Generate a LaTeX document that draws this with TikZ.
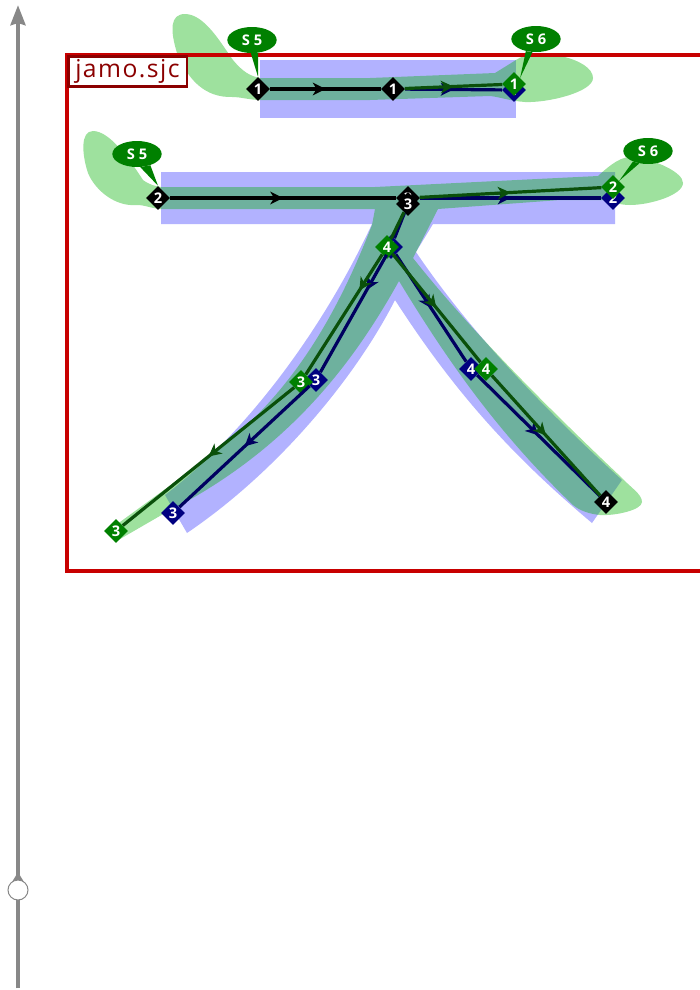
\documentclass[tikz,border=0pt]{standalone}
\usepackage{fontspec}
\usepackage{xcolor}
\usepackage{tikz}
\usetikzlibrary{arrows.meta,shapes.geometric,decorations.markings}
\newfontfamily\glyphfont[LetterSpace=6]{Open Sans}
\newfontfamily\markfont{Open Sans}
\definecolor{axisGray}{HTML}{888888}
\definecolor{frameRed}{HTML}{C80000}
\definecolor{labelRed}{HTML}{8B0000}
\definecolor{inkBlue}{HTML}{0000FF}
\definecolor{inkGreen}{HTML}{00B100}
\definecolor{ptNavy}{HTML}{000080}
\definecolor{ptGreen}{HTML}{008000}
\definecolor{lineNavy}{HTML}{000060}
\definecolor{lineGreen}{HTML}{0A500A}

\begin{document}
\begin{tikzpicture}[
  x=0.75pt,y=-0.75pt,
  midarrow/.style={postaction={decorate,decoration={markings,
    mark=at position #1 with {\arrow{Stealth[length=9.5pt,width=9.5pt,inset=2.8pt]}}}}},
  midarrow/.default=0.5,
  pt/.style={diamond,minimum size=18pt,inner sep=0pt,text=white,
             font=\markfont\bfseries\fontsize{11}{12}\selectfont},
  ptblack/.style={pt,fill=black},
  ptnavy/.style={pt,fill=ptNavy},
  ptgreen/.style={pt,fill=ptGreen},
  lnblack/.style={line width=2.4pt,draw=black},
  lnnavy/.style={line width=2.4pt,draw=lineNavy},
  lngreen/.style={line width=2.4pt,draw=lineGreen},
  bubble/.style={ellipse,fill=ptGreen,minimum width=37pt,minimum height=19.5pt,inner sep=0pt,
                 text=white,font=\markfont\bfseries\fontsize{11}{12}\selectfont},
]
  \path[use as bounding box,clip] (0,0) rectangle (700,990);

  \fill[inkBlue,fill opacity=0.3] (260,60) rectangle (516,118);
  \fill[inkBlue,fill opacity=0.3] (161,172) -- (615,172) -- (615,224) -- (433,224)
    -- (416,252) .. controls (470,332) and (545,410) .. (622,480)
    -- (592,523) .. controls (505,450) and (450,385) .. (395,300)
    .. controls (357,375) and (280,470) .. (187,533)
    -- (165,495) .. controls (250,430) and (325,325) .. (372,224)
    -- (161,224) -- cycle;

  \fill[inkGreen,fill opacity=0.38] (260,78) -- (370,78) -- (495,73) -- (516,60)
    .. controls (535,46) and (593,58) .. (593,78)
    .. controls (593,92) and (548,103) .. (525,102)
    .. controls (510,101) and (500,97) .. (490,96) -- (370,100) -- (258,100)
    .. controls (245,99) and (240,97) .. (233,97)
    .. controls (205,98) and (188,80) .. (177,53)
    .. controls (170,30) and (170,14) .. (185,14)
    .. controls (205,14) and (222,45) .. (233,60)
    .. controls (243,72) and (250,76) .. (260,78) -- cycle;
  \fill[inkGreen,fill opacity=0.38] (161,187) -- (375,187) -- (598,176)
    .. controls (610,165) and (622,155) .. (635,157)
    .. controls (655,160) and (683,172) .. (683,183)
    .. controls (683,195) and (650,205) .. (630,205)
    .. controls (620,205) and (612,202) .. (603,200)
    -- (560,200) -- (438,209) -- (413,258)
    .. controls (470,330) and (545,405) .. (622,478)
    .. controls (630,487) and (642,494) .. (642,502)
    .. controls (642,510) and (615,516) .. (600,515)
    .. controls (590,514) and (580,511) .. (573,505)
    .. controls (500,435) and (450,365) .. (399,281)
    .. controls (355,360) and (290,450) .. (165,513)
    -- (127,535) -- (115,542) -- (108,531) -- (120,522)
    -- (212,455) .. controls (290,395) and (335,320) .. (372,225)
    -- (375,209) -- (160,209)
    .. controls (150,208) and (145,205) .. (137,205)
    .. controls (115,207) and (95,190) .. (88,173)
    .. controls (82,155) and (80,131) .. (93,131)
    .. controls (110,131) and (130,160) .. (143,180)
    .. controls (150,185) and (155,186) .. (161,187) -- cycle;

  \draw[frameRed,line width=2.8pt] (67,55) rectangle (730,571);
  \node[draw=labelRed,line width=2pt,fill=white,text=labelRed,minimum width=89pt,minimum height=22.5pt,
        inner sep=0pt,font=\glyphfont\fontsize{18.5}{20}\selectfont] (glyphname) at (127.5,71.5) {jamo.sjc};

  \coordinate (axisbase) at (18,988);
  \coordinate (axistop) at (18,5);
  \coordinate (knobtip) at (18,872);
  \draw[axisGray,line width=3.7pt,-{Stealth[length=15pt,width=11pt,inset=1.5pt]}] (axisbase) -- (axistop);
  \draw[axisGray,line width=3.7pt,-{Stealth[length=8pt,width=9pt,inset=0pt]}] (axisbase) -- (knobtip);
  \node[circle,draw=axisGray,fill=white,line width=0.75pt,minimum size=15pt,inner sep=0pt] (knob) at (18,890) {};

  \node[ptblack] (a1) at (258,89)  {1};
  \node[ptblack] (a2) at (393,89)  {1};
  \node[ptnavy]  (a3) at (514,90)  {1};
  \node[ptgreen] (a4) at (514,84)  {1};

  \node[ptblack] (b1) at (158,198) {2};
  \node[ptblack] (b2) at (408,198) {3};
  \node[ptblack] (b3) at (408,204) {3};
  \node[ptnavy]  (b4) at (613,198) {2};
  \node[ptgreen] (b5) at (613,187) {2};

  \node[ptnavy]  (c1) at (391,247) {4};
  \node[ptgreen] (c2) at (387,247) {4};
  \node[ptnavy]  (c3) at (316,380) {3};
  \node[ptgreen] (c4) at (301,382) {3};
  \node[ptnavy]  (c5) at (173,513) {3};
  \node[ptgreen] (c6) at (116,531) {3};
  \node[ptnavy]  (d1) at (471,369) {4};
  \node[ptgreen] (d2) at (486,369) {4};
  \node[ptblack] (d3) at (606,502) {4};

  \draw[lnblack,midarrow] (a1) -- (a2);
  \draw[lnnavy,midarrow]  (a2) -- (a3);
  \draw[lngreen,midarrow] (a2) -- (a4);
  \draw[lnblack,midarrow] (b1) -- (b2);
  \draw[lnnavy,midarrow]  (b2) -- (b4);
  \draw[lngreen,midarrow] (b2) -- (b5);
  \draw[lnnavy]  (b3) -- (c1);
  \draw[lngreen] (b3) -- (c2);
  \draw[lnnavy,midarrow=0.3]  (c1) -- (c3);
  \draw[lngreen,midarrow=0.3] (c2) -- (c4);
  \draw[lnnavy,midarrow]  (c3) -- (c5);
  \draw[lngreen,midarrow] (c4) -- (c6);
  \draw[lnnavy,midarrow]  (c1) -- (d1);
  \draw[lngreen,midarrow] (c2) -- (d2);
  \draw[lnnavy,midarrow]  (d1) -- (d3);
  \draw[lngreen,midarrow] (d2) -- (d3);

  \node[bubble] (sa) at (252,40)  {S 5};
  \node[bubble] (sb) at (536,39)  {S 6};
  \node[bubble] (sc) at (137,154) {S 5};
  \node[bubble] (sd) at (648,151) {S 6};
  \fill[ptGreen] (sa.-95)  -- (sa.-65)  -- (a1.north) -- cycle;
  \fill[ptGreen] (sb.-130) -- (sb.-105) -- (a4.north east) -- cycle;
  \fill[ptGreen] (sc.-76)  -- (sc.-40)  -- (b1.north) -- cycle;
  \fill[ptGreen] (sd.-145) -- (sd.-125) -- (b5.north east) -- cycle;
\end{tikzpicture}
\end{document}
